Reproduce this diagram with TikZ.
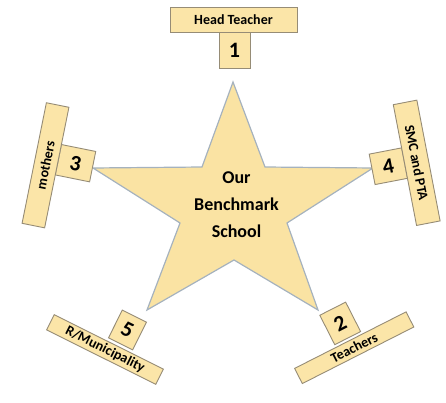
\documentclass[tikz,border=0pt]{standalone}
\usepackage{fontspec}
\setmainfont{Carlito}
\definecolor{starfill}{RGB}{250,227,163}
\definecolor{starline}{RGB}{165,178,190}
\definecolor{boxfill}{RGB}{251,229,168}
\definecolor{boxline}{RGB}{150,140,118}
\begin{document}
\begin{tikzpicture}[x=1pt,y=1pt,
  starshape/.style={fill=starfill,draw=starline,line width=1.2pt,line join=miter},
  numbox/.style={draw=boxline,fill=boxfill,line width=0.9pt,inner sep=0pt,
    font=\fontsize{22}{24}\selectfont\bfseries},
  labelbox/.style={draw=boxline,fill=boxfill,line width=0.9pt,inner sep=0pt,
    font=\fontsize{14}{16}\selectfont\bfseries},
  centertext/.style={align=center,font=\fontsize{18}{27}\selectfont\bfseries}]
\useasboundingbox (0,0) rectangle (446,402);

% star
\draw[starshape] (233,320) -- (265,235) -- (373,234) -- (287,179) -- (318,92)
  -- (234,142) -- (147,92) -- (180,179) -- (93,234) -- (202,235) -- cycle;
\node[centertext] (school) at (236.5,197) {Our\\Benchmark\\School};

% 1 Head Teacher
\begin{scope}[shift={(233.5,382.5)},transform shape]
  \node[numbox,minimum width=31pt,minimum height=36pt] (n1) at (1,-30.5) {1};
  \node[labelbox,minimum width=127pt,minimum height=25pt] (l1) at (0,0) {Head Teacher};
\end{scope}

% 3 mothers
\begin{scope}[shift={(45.5,236.7)},rotate=78.6,transform shape]
  \node[numbox,rotate=-90,minimum width=35pt,minimum height=31pt] (n3) at (8,-29) {3};
  \node[labelbox,minimum width=123pt,minimum height=23pt] (l3) at (0,0) {mothers};
\end{scope}

% 4 SMC and PTA
\begin{scope}[shift={(416.7,239.2)},rotate=-79.1,transform shape]
  \node[numbox,rotate=90,minimum width=33pt,minimum height=31pt] (n4) at (-2,-28.5) {4};
  \node[labelbox,minimum width=123pt,minimum height=24pt] (l4) at (0,0) {SMC and PTA};
\end{scope}

% 5 R/Municipality
\begin{scope}[shift={(105,52.5)},rotate=-26.5,transform shape]
  \node[numbox,minimum width=27pt,minimum height=31pt] (n5) at (11.4,27.5) {5};
  \node[labelbox,minimum width=122pt,minimum height=17pt] (l5) at (0,0) {R/Municipality};
\end{scope}

% 2 Teachers
\begin{scope}[shift={(354.2,54.3)},rotate=26.9,transform shape]
  \node[numbox,minimum width=29pt,minimum height=33pt] (n2) at (-1.5,28) {2};
  \node[labelbox,minimum width=125pt,minimum height=17pt] (l2) at (0,0) {Teachers};
\end{scope}
\end{tikzpicture}
\end{document}
